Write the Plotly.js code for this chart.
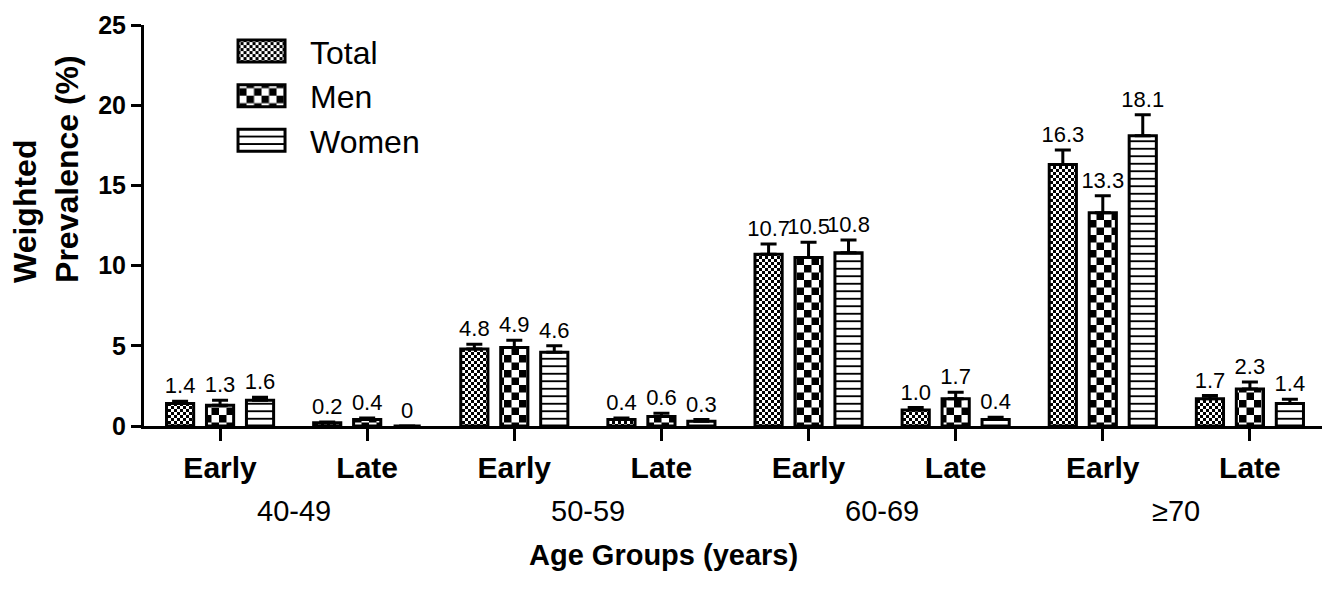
<!DOCTYPE html>
<html><head><meta charset="utf-8">
<script src="https://cdn.plot.ly/plotly-3.0.1.min.js"></script>
<style>html,body{margin:0;padding:0;background:#fff}#chart{width:1322px;height:598px}</style>
</head><body><div id="chart"></div>
<script>
// ---- data ----
const ageGroups = ['40-49', '50-59', '60-69', '≥70'];
const stages = ['Early', 'Late', 'Early', 'Late', 'Early', 'Late', 'Early', 'Late'];
const totalValues = [1.4, 0.2, 4.8, 0.4, 10.7, 1.0, 16.3, 1.7];
const menValues   = [1.3, 0.4, 4.9, 0.6, 10.5, 1.7, 13.3, 2.3];
const womenValues = [1.6, 0.0, 4.6, 0.3, 10.8, 0.4, 18.1, 1.4];
const totalErrors = [0.15, 0.05, 0.3, 0.1, 0.65, 0.15, 0.9, 0.2];
const menErrors   = [0.3, 0.1, 0.45, 0.2, 0.95, 0.4, 1.05, 0.45];
const womenErrors = [0.2, 0.0, 0.4, 0.1, 0.8, 0.15, 1.3, 0.27];
const totalLabels = ['1.4', '0.2', '4.8', '0.4', '10.7', '1.0', '16.3', '1.7'];
const menLabels   = ['1.3', '0.4', '4.9', '0.6', '10.5', '1.7', '13.3', '2.3'];
const womenLabels = ['1.6', '0', '4.6', '0.3', '10.8', '0.4', '18.1', '1.4'];
const seriesNames = ['Total', 'Men', 'Women'];
const yTitle = 'Weighted<br>Prevalence (%)';
const xTitle = 'Age Groups (years)';

// ---- build ----
const FONT = 'Liberation Sans, Arial, Helvetica, sans-serif';
const xIdx = stages.map((_, i) => i);

// Total: fine checkerboard, Men: coarse checkerboard, Women: horizontal lines
const patterns = [
  {shape: '.', size: 6, solidity: 0.5, fgcolor: '#000', bgcolor: '#fff', fillmode: 'replace'},
  {shape: '.', size: 15, solidity: 0.5, fgcolor: '#000', bgcolor: '#fff', fillmode: 'replace'},
  {shape: '-', size: 7.5, solidity: 0.25, fgcolor: '#000', bgcolor: '#fff', fillmode: 'replace'}
];
const checkerSizes = [6, 15];

function barTrace(name, vals, errs, pattern, grp) {
  return {
    type: 'bar', name: name, x: xIdx, y: vals, offsetgroup: grp, legendgroup: grp,
    marker: {color: '#fff', line: {color: '#000', width: 3}, pattern: pattern},
    error_y: {type: 'data', array: errs, arrayminus: errs.map(() => 0), symmetric: false,
              color: '#000', thickness: 3, width: 8},
    hoverinfo: 'none'
  };
}
function labelTrace(vals, errs, labels, grp) {
  return {
    type: 'bar', x: xIdx, y: vals.map((v, i) => v + errs[i]), offsetgroup: grp, showlegend: false,
    marker: {color: 'rgba(0,0,0,0)', line: {width: 0}},
    text: labels, textposition: 'outside', constraintext: 'none', cliponaxis: false,
    textfont: {family: FONT, size: 22, color: '#000'}, hoverinfo: 'none'
  };
}

const data = [
  barTrace(seriesNames[0], totalValues, totalErrors, patterns[0], 'g0'),
  barTrace(seriesNames[1], menValues, menErrors, patterns[1], 'g1'),
  barTrace(seriesNames[2], womenValues, womenErrors, patterns[2], 'g2'),
  labelTrace(totalValues, totalErrors, totalLabels, 'g0'),
  labelTrace(menValues, menErrors, menLabels, 'g1'),
  labelTrace(womenValues, womenErrors, womenLabels, 'g2')
];

const annotations = ageGroups.map((g, i) => ({
  text: g, x: 2 * i + 0.5, xref: 'x', y: -0.212, yref: 'paper',
  xanchor: 'center', yanchor: 'middle', showarrow: false,
  font: {family: FONT, size: 29, color: '#000'}
}));
annotations.push({
  text: '<b>' + xTitle + '</b>', x: 0.4406, xref: 'paper', y: -0.322, yref: 'paper',
  xanchor: 'center', yanchor: 'middle', showarrow: false,
  font: {family: FONT, size: 29, color: '#000'}
});
annotations.push({
  text: '<b>' + yTitle + '</b>', x: -0.0832, xref: 'paper', y: 0.641, yref: 'paper',
  xanchor: 'center', yanchor: 'middle', showarrow: false, textangle: -90, align: 'left',
  font: {family: FONT, size: 32, color: '#000'}
});

const layout = {
  width: 1322, height: 598,
  margin: {l: 144, r: 0, t: 25, b: 172},
  paper_bgcolor: '#fff', plot_bgcolor: '#fff',
  barmode: 'group', bargap: 0.185, bargroupgap: 0.32,
  font: {family: FONT, color: '#000'},
  showlegend: true,
  legend: {x: 0.0586, y: 1.003, xanchor: 'left', yanchor: 'top', itemwidth: 87,
           tracegroupgap: 0, traceorder: 'grouped',
           font: {family: FONT, size: 32, color: '#000'}, bgcolor: 'rgba(0,0,0,0)'},
  xaxis: {
    range: [-0.517, 7.49], tickmode: 'array', tickvals: xIdx,
    ticktext: stages.map(s => '<b>' + s + '</b>'),
    showline: true, linecolor: '#000', linewidth: 3,
    ticks: 'outside', ticklen: 12, tickwidth: 3, tickcolor: '#000',
    tickfont: {family: FONT, size: 30, color: '#000'}, ticklabelstandoff: 1,
    showgrid: false, zeroline: false, fixedrange: true
  },
  yaxis: {
    range: [0, 25], dtick: 5, tick0: 0,
    showline: true, linecolor: '#000', linewidth: 3,
    ticks: 'outside', ticklen: 10, tickwidth: 3, tickcolor: '#000',
    tickfont: {family: FONT, size: 25, color: '#000', weight: 'bold'},
    showgrid: false, zeroline: false, fixedrange: true
  },
  annotations: annotations
};

const SVGNS = 'http://www.w3.org/2000/svg';
function checkerPath(a) {
  return 'M0,0H' + a + 'V' + a + 'H0Z M' + a + ',' + a + 'H' + (2 * a) + 'V' + (2 * a) + 'H' + a + 'Z';
}

Plotly.newPlot('chart', data, layout, {displayModeBar: false, staticPlot: true}).then(gd => {
  // turn the dot patterns into checkerboards
  document.querySelectorAll('pattern').forEach(pat => {
    const w = parseFloat(pat.getAttribute('width'));
    if (!checkerSizes.some(s => Math.abs(s - w) < 0.01)) return;
    pat.querySelectorAll('circle, path').forEach(el => el.remove());
    const p = document.createElementNS(SVGNS, 'path');
    p.setAttribute('d', checkerPath(w / 2));
    p.setAttribute('fill', '#000');
    p.setAttribute('stroke', 'none');
    pat.appendChild(p);
  });
  // legend swatches: larger, and filled with the same pattern as the bars
  const barTraces = gd.querySelectorAll('.barlayer .trace');
  const legendTraces = gd.querySelectorAll('.legend .traces');
  legendTraces.forEach((lt, i) => {
    const lp = lt.querySelector('.legendpoints path');
    if (!lp) return;
    lp.setAttribute('d', 'M23.5,11H-23.5V-11H23.5Z');
    const bt = barTraces[i];
    const bp = bt ? bt.querySelector('.point path') : null;
    if (bp && bp.style.fill) lp.style.fill = bp.style.fill;
  });
});
</script>
</body></html>
